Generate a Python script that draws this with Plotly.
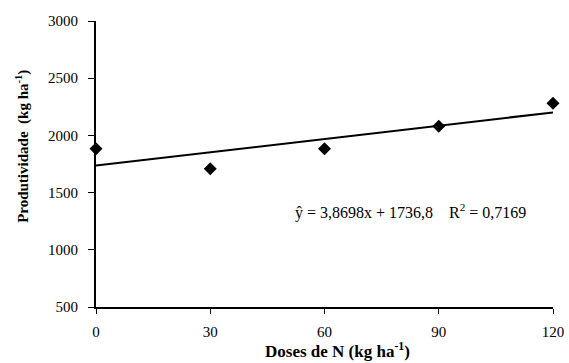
import plotly.graph_objects as go

doses = [0, 30, 60, 90, 120]
produtividade = [1884, 1709, 1884, 2081, 2282]
slope = 3.8698
intercept = 1736.8
x_ticks = [0, 30, 60, 90, 120]
y_ticks = [500, 1000, 1500, 2000, 2500, 3000]

fig = go.Figure()
fit_x = [0, 120]
fit_y = [intercept + slope * v for v in fit_x]
fig.add_trace(go.Scatter(x=fit_x, y=fit_y, mode="lines",
                         line=dict(color="black", width=2), cliponaxis=False,
                         showlegend=False, hoverinfo="skip"))
fig.add_trace(go.Scatter(x=doses, y=produtividade, mode="markers",
                         marker=dict(symbol="diamond", size=10, color="black"),
                         cliponaxis=False, showlegend=False))

font = "'Liberation Serif', 'Times New Roman', serif"
fig.add_annotation(x=82.5, y=1336, xref="x", yref="y",
                   text="ŷ = 3,8698x + 1736,8\u00a0\u00a0\u00a0\u00a0R<sup>2</sup> = 0,7169",
                   showarrow=False, xanchor="center", yanchor="middle",
                   font=dict(family=font, size=16, color="black"))
fig.add_annotation(x=0.528, y=-0.15, xref="paper", yref="paper",
                   text="<b>Doses de N (kg ha<sup>-1</sup>)</b>",
                   showarrow=False, xanchor="center", yanchor="middle",
                   font=dict(family=font, size=17, color="black"))
fig.add_annotation(x=-0.16, y=0.563, xref="paper", yref="paper",
                   text="<b>Produtividade  (kg ha<sup>-1</sup>)</b>", textangle=-90,
                   showarrow=False, xanchor="center", yanchor="middle",
                   font=dict(family=font, size=15, color="black"))

fig.update_layout(
    width=569, height=363,
    margin=dict(l=96, r=16, t=21, b=56),
    paper_bgcolor="white", plot_bgcolor="white",
    font=dict(family=font, size=15, color="black"),
    xaxis=dict(range=[0, 120], tickvals=x_ticks, showgrid=False, zeroline=False,
               showline=True, linecolor="black", linewidth=2, automargin=False,
               ticks="outside", ticklen=5, tickwidth=1, tickcolor="black",
               ticklabelstandoff=5),
    yaxis=dict(range=[500, 3000], tickvals=y_ticks, showgrid=False, zeroline=False,
               showline=True, linecolor="black", linewidth=2, automargin=False,
               ticks="outside", ticklen=6, tickwidth=1, tickcolor="black",
               ticklabelstandoff=7),
)

fig.write_html("out.html", config={"displayModeBar": False},
               post_script="document.body.style.margin='0';document.body.style.overflow='hidden';")
